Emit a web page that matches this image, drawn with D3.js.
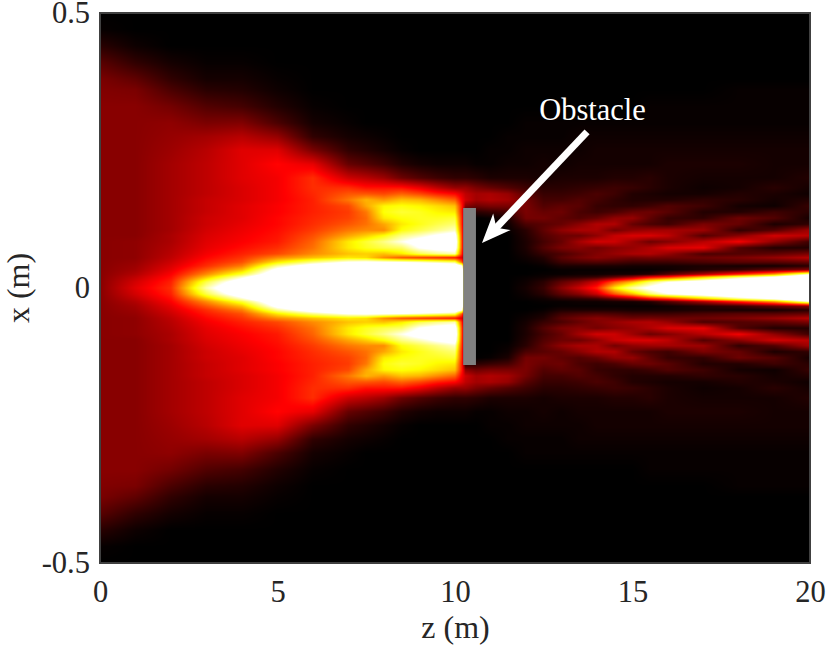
<!DOCTYPE html>
<html><head><meta charset="utf-8">
<script src="https://cdn.jsdelivr.net/npm/d3@7"></script>
<style>html,body{margin:0;padding:0;background:#fff}svg{display:block}text{font-family:"Liberation Serif",serif}</style>
</head><body><svg id="c" width="830" height="654"></svg>
<script>
// Axis ticks and labels
const zTicks = [0, 5, 10, 15, 20];
const xTicks = [-0.5, 0, 0.5];
const xTickLabels = ["-0.5", "0", "0.5"];
const zLabel = "z (m)";
const xLabel = "x (m)";
const obstacleLabel = "Obstacle";
// Obstacle [z0, z1], [xBottom, xTop]; arrow tail & tip in data units
const obstacleZ = [10.23, 10.59];
const obstacleX = [-0.14, 0.1455];
const arrowZ = [13.72, 10.76];
const arrowX = [0.284, 0.082];
// Sample positions
const zGrid = [0,1,2,3,4,5,6,7,7.5,8,8.5,9,9.5,10,10.2,10.3,10.6,11,11.5,12,12.5,13,13.5,14,14.5,15,15.5,16,17,18,19,20];
const absX = [0,.011,.02,.025,.033,.04,.047,.055,.062,.073,.084,.095,.105,.116,.127,.138,.149,.16,.171,.182,.2,.225,.25,.275,.3,.33,.36,.38,.41,.44,.47,.5];
// Intensity in % of the colour range, one list per z, rows by |x|; lists stop when the rest is black
const intensity = [
[20,20,20,20,20,20,20,20,20,20,20,20,20,20,20,20,20,20,20,20,20,20,20,20,20,20,19,18,13,6,1],
[33,31,28,26,24,23,22,21,21,21,21,20,20,20,20,20,20,20,20,20,20,20,20,20,20,20,18,14,7,2],
[44,42,39,37,34,32,30,28,27,26,25,25,24,24,24,24,24,24,24,24,24,24,23,22,21,17,11,7,3],
[92,82,66,58,50,44,41,38,36,34,33,32,31,30,30,29,29,29,28,28,28,28,27,24,18,12,6,3,1],
[125,112,94,80,66,56,49,45,42,39,37,36,35,34,33,33,33,32,32,32,33,33,33,27,19,10,5,3,1],
[130,130,125,115,105,90,72,58,48,44,41,40,39,38,38,37,37,36,36,36,36,38,33,22,11,5,2,1],
[130,130,130,130,122,110,88,66,58,54,52,49,46,44,43,42,42,42,43,44,44,34,18,7,3,1],
[130,130,130,130,130,122,100,72,66,72,72,62,55,50,47,46,48,55,50,44,30,15,7,3,1],
[130,130,130,130,130,124,102,70,68,78,80,68,58,54,53,55,62,64,50,40,27,12,5,2],
[130,130,130,130,130,125,100,58,66,82,88,76,58,62,72,76,74,60,48,40,23,9,3,1],
[130,130,130,130,130,125,98,50,72,85,98,88,76,72,76,80,76,66,52,40,16,5,1],
[130,130,130,130,130,122,95,46,82,100,108,94,82,77,78,78,74,64,48,35,12,3],
[130,130,130,130,130,120,90,43,88,106,112,102,88,82,78,74,70,58,42,28,9,2],
[130,130,130,130,130,118,85,40,92,110,114,108,94,86,80,72,66,52,38,22,7,2],
[130,130,130,125,115,100,50,32,42,46,46,45,44,42,42,40,40,36,32,22,7,2],
[0,0,0,0,0,0,0,0,0,0,0,0,0,0,0,5,20,30,28,22,7,2],
[0,0,0,0,0,0,0,0,0,0,0,0,0,0,0,6,16,24,24,18,6,1],
[0,0,0,0,0,0,0,0,0,0,0,0,0,0,1,8,18,26,25,15,4,1,1],
[0,0,0,0,0,0,0,0,0,0,0,0,1,2,4,10,18,24,22,12,4,2,1,1],
[3,2,1,0,0,0,1,2,3,4,4,5,6,11,17,18,18,17,13,9,4,2,2,1,1],
[8,6,2,1,0,1,3,5,8,12,10,12,14,13,17,15,12,10,8,6,3,3,2,1,1],
[20,14,5,1,1,4,9,13,11,18,15,16,21,15,14,16,14,10,8,6,4,2,2,1,1],
[30,20,6,2,1,4,11,17,15,20,24,16,25,20,12,11,13,12,9,7,4,3,2,2,1],
[42,30,8,2,1,4,12,20,19,17,31,21,25,26,15,9,8,10,11,8,4,3,3,2,1],
[72,50,14,3,1,4,11,18,22,20,30,29,17,26,21,11,7,7,9,9,5,3,3,2,1],
[92,65,22,3,1,3,9,16,25,22,23,32,21,15,22,15,7,5,5,8,5,3,3,2,1],
[104,85,35,5,1,3,9,17,26,26,16,32,23,11,14,16,9,5,4,6,6,3,3,2,1,1],
[118,98,42,12,2,3,9,16,22,32,19,28,24,9,8,13,12,5,3,4,4,4,3,2,1,1],
[130,110,65,25,5,4,11,16,11,34,27,12,23,18,7,5,9,7,3,2,3,4,3,2,1,1],
[130,125,85,42,8,3,13,18,12,12,36,20,7,15,16,5,3,6,5,3,3,4,3,2,1,1,1],
[130,130,100,60,15,3,13,22,14,5,21,31,12,4,12,9,2,3,4,6,3,3,3,2,1,1,1],
[130,130,125,95,20,6,15,27,18,5,9,27,24,7,3,6,8,5,2,3,5,3,3,2,1,1,1]
];

const W = 830, H = 654, L = 100, R = 810, T = 13, B = 563;
const z = d3.scaleLinear().domain([0, 20]).range([L, R]);
const x = d3.scaleLinear().domain([-0.5, 0.5]).range([B, T]);
const hot = d3.scaleLinear().domain([0, 37.5, 75, 100]).range(["#000", "#f00", "#ff0", "#fff"]).clamp(true);
const zIdx = d3.scaleLinear().domain(zGrid).range(zGrid.map((_, i) => i)).clamp(true);
const xIdx = d3.scaleLinear().domain(absX).range(absX.map((_, i) => i)).clamp(true);
const svg = d3.select("#c");

const cw = R - L, ch = B - T;
const cv = document.createElement("canvas"); cv.width = cw; cv.height = ch;
const ctx = cv.getContext("2d"), img = ctx.createImageData(cw, ch);
const lut = d3.range(0, 1301).map(i => d3.rgb(hot(i / 10)));
const val = (i, j) => intensity[i][j] ?? 0;
const fz = d3.range(cw).map(px => zIdx(z.invert(L + px + .5)));
for (let py = 0; py < ch; py++) {
  const fx = xIdx(Math.abs(x.invert(T + py + .5)));
  const j0 = Math.min(Math.floor(fx), absX.length - 2), v = fx - j0;
  for (let px = 0; px < cw; px++) {
    const i0 = Math.min(Math.floor(fz[px]), zGrid.length - 2), u = fz[px] - i0;
    const s = (1 - u) * ((1 - v) * val(i0, j0) + v * val(i0, j0 + 1)) + u * ((1 - v) * val(i0 + 1, j0) + v * val(i0 + 1, j0 + 1));
    const c = lut[Math.min(1300, Math.round(s * 10))], k = (py * cw + px) * 4;
    img.data[k] = c.r; img.data[k + 1] = c.g; img.data[k + 2] = c.b; img.data[k + 3] = 255;
  }
}
ctx.putImageData(img, 0, 0);
svg.append("image").attr("x", L).attr("y", T).attr("width", cw).attr("height", ch).attr("href", cv.toDataURL());

// Obstacle
svg.append("rect").attr("x", z(obstacleZ[0])).attr("y", x(obstacleX[1]))
  .attr("width", z(obstacleZ[1]) - z(obstacleZ[0])).attr("height", x(obstacleX[0]) - x(obstacleX[1])).attr("fill", "#808080");

// Frame
svg.append("rect").attr("x", L).attr("y", T).attr("width", R - L).attr("height", B - T)
  .attr("fill", "none").attr("stroke", "#404040").attr("stroke-width", 2);

// Axes
const ax = svg.append("g").attr("transform", `translate(0,${B})`)
  .call(d3.axisBottom(z).tickValues(zTicks).tickSize(0).tickPadding(17.5).tickFormat(d3.format("d")));
const ay = svg.append("g").attr("transform", `translate(${L},0)`)
  .call(d3.axisLeft(x).tickValues(xTicks).tickSize(0).tickPadding(10).tickFormat((d, i) => xTickLabels[i]));
[ax, ay].forEach(g => {
  g.select(".domain").remove();
  g.selectAll("text").attr("fill", "#262626").style("font-family", '"Liberation Serif",serif').style("font-size", "30.5px");
});
svg.append("text").attr("x", 455.5).attr("y", 638).attr("text-anchor", "middle").attr("fill", "#262626").attr("font-size", 32).text(zLabel);
svg.append("text").attr("transform", "translate(29,288) rotate(-90)").attr("text-anchor", "middle").attr("fill", "#262626").attr("font-size", 32).text(xLabel);

// Annotation
const ang = Math.atan2(x(arrowX[1]) - x(arrowX[0]), z(arrowZ[1]) - z(arrowZ[0]));
const tip = [z(arrowZ[1]), x(arrowX[1])];
const back = (d, s) => [tip[0] - d * Math.cos(ang) - s * Math.sin(ang), tip[1] - d * Math.sin(ang) + s * Math.cos(ang)];
svg.append("line").attr("x1", z(arrowZ[0])).attr("y1", x(arrowX[0])).attr("x2", back(16, 0)[0]).attr("y2", back(16, 0)[1])
  .attr("stroke", "#fff").attr("stroke-width", 7);
svg.append("path").attr("fill", "#fff").attr("d", d3.line()([tip, back(29, 12), back(21, 0), back(29, -12)]) + "Z");
svg.append("text").attr("x", 592.5).attr("y", 120).attr("text-anchor", "middle").attr("fill", "#fff").attr("font-size", 30.5).text(obstacleLabel);
</script></body></html>
